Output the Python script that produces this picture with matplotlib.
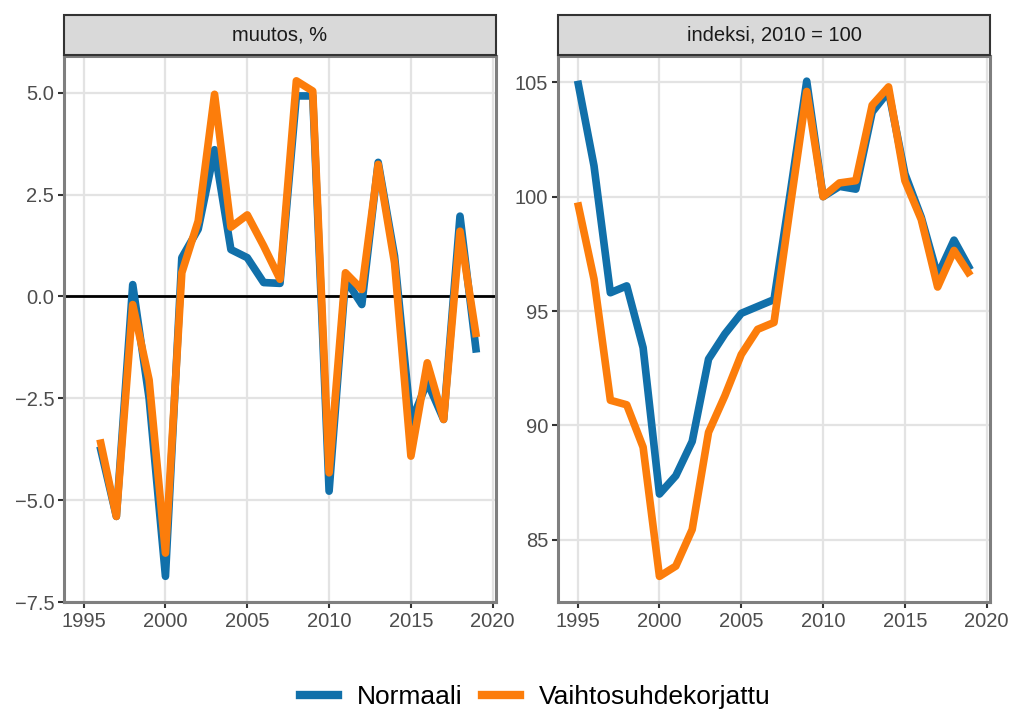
import matplotlib.pyplot as plt
from matplotlib.lines import Line2D
from matplotlib.patches import Rectangle

plt.rcParams['font.family'] = ['Liberation Sans', 'DejaVu Sans']

# vuosimuutos, %
vuodet_muutos = list(range(1996, 2020))
normaali_muutos = [-3.68, -5.4, 0.29, -2.5, -6.87, 0.95, 1.65, 3.6, 1.15, 0.95, 0.34, 0.32,
                   4.92, 4.92, -4.78, 0.42, -0.2, 3.29, 0.99, -3.1, -2.1, -3.02, 1.97, -1.38]
korjattu_muutos = [-3.51, -5.4, -0.2, -2.05, -6.3, 0.58, 1.85, 4.96, 1.7, 2.0, 1.24, 0.42,
                   5.29, 5.04, -4.33, 0.58, 0.17, 3.24, 0.82, -3.92, -1.63, -3.02, 1.6, -1.0]

# indeksi, 2010 = 100
vuodet_indeksi = list(range(1995, 2020))
normaali_indeksi = [105.07, 101.35, 95.8, 96.1, 93.4, 87.0, 87.8, 89.3, 92.9, 94.0, 94.9, 95.2, 95.5,
                    100.2, 105.05, 100.0, 100.45, 100.33, 103.7, 104.6, 101.0, 99.1, 96.55, 98.1, 96.8]
korjattu_indeksi = [99.75, 96.4, 91.1, 90.9, 89.05, 83.4, 83.85, 85.45, 89.7, 91.3, 93.1, 94.2, 94.5,
                    99.6, 104.6, 100.0, 100.6, 100.7, 104.0, 104.8, 100.7, 99.0, 96.05, 97.65, 96.55]

otsikot = ['muutos, %', 'indeksi, 2010 = 100']
sarjat = ['Normaali', 'Vaihtosuhdekorjattu']
varit = ['#1170aa', '#fc7d0b']

W, H = 1013, 711
fig = plt.figure(figsize=(W / 100, H / 100), dpi=100)


def px_box(x0, y0, x1, y1):
    return [x0 / W, 1 - y1 / H, (x1 - x0) / W, (y1 - y0) / H]


paneelit = [
    (px_box(64, 56, 496, 602), vuodet_muutos, normaali_muutos, korjattu_muutos,
     [-7.5, -5.0, -2.5, 0.0, 2.5, 5.0], (-7.5, 5.9), '{:.1f}'),
    (px_box(558, 56, 990, 602), vuodet_indeksi, normaali_indeksi, korjattu_indeksi,
     [85, 90, 95, 100, 105], (82.28, 106.15), '{:.0f}'),
]

for i, (box, x, y1, y2, yticks, ylim, fmt) in enumerate(paneelit):
    ax = fig.add_axes(box)
    ax.set_xlim(1993.8, 2020.2)
    ax.set_ylim(*ylim)
    ax.set_xticks([1995, 2000, 2005, 2010, 2015, 2020])
    ax.set_yticks(yticks)
    ax.set_yticklabels([fmt.format(v).replace('-', '\u2212') for v in yticks])
    ax.grid(True, color='#e3e3e3', lw=1.6)
    ax.set_axisbelow(True)
    if i == 0:
        ax.axhline(0, color='black', lw=2, zorder=2)
    ax.plot(x, y1, color=varit[0], lw=5.5, solid_capstyle='butt', zorder=3)
    ax.plot(x, y2, color=varit[1], lw=5.5, solid_capstyle='butt', zorder=4)
    for s in ax.spines.values():
        s.set_color('#7f7f7f')
        s.set_linewidth(2.2)
    ax.tick_params(length=4, width=1.5, color='#333333', labelsize=14.5,
                   labelcolor='#4d4d4d', pad=3)

    # otsikkopalkki
    sx = fig.add_axes(px_box(box[0] * W, 15, (box[0] + box[2]) * W, 55))
    sx.set_xlim(0, 1)
    sx.set_ylim(0, 1)
    sx.axis('off')
    sx.add_patch(Rectangle((0, 0), 1, 1, transform=sx.transAxes, facecolor='#d9d9d9',
                           edgecolor='#333333', lw=1.5, clip_on=False))
    sx.text(0.5, 0.5, otsikot[i], ha='center', va='center', fontsize=14.5, color='#1a1a1a')

kahvat = [Line2D([], [], color=c, lw=6) for c in varit]
fig.legend(kahvat, sarjat, loc='center', bbox_to_anchor=(535 / W, 1 - 697 / H), ncol=2,
           frameon=False, fontsize=19, handlelength=1.45, handletextpad=0.7,
           columnspacing=0.75, borderpad=0)

fig.savefig('out.png', dpi=100)
